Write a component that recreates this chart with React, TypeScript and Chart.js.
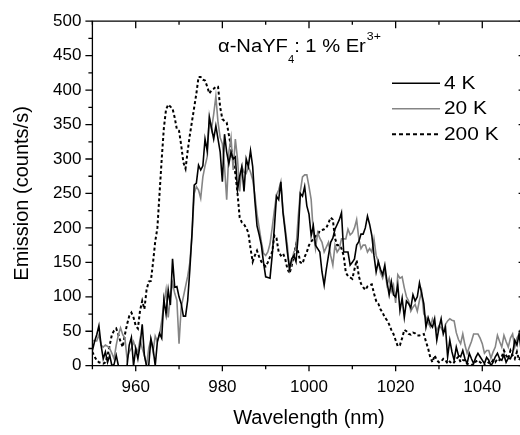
import React, { useEffect, useRef } from "react";
import { Chart, registerables } from "chart.js";

Chart.register(...registerables);

// Wavelength grid (nm): first sample and spacing
const WL_START = 950;
const WL_STEP = 0.5;

// Emission (counts/s), one value per 0.5 nm from 950 to 1050 nm
const EMISSION_4K = [
  22, 35, 45, 58, 30, 10, 20, 5, 15, 0,
  2, 15, 0, 0, 0, 0, 0, 30, 41, 0,
  25, 10, 30, 60, 15, 0, 0, 39, 25, 0,
  35, 47, 40, 96, 75, 110, 88, 155, 114, 115,
  100, 90, 72, 72, 95, 140, 193, 262, 265, 291,
  284, 290, 329, 312, 360, 345, 329, 348, 329, 310,
  267, 336, 310, 293, 310, 300, 303, 255, 275, 289,
  253, 300, 289, 312, 289, 240, 203, 190, 175, 150,
  129, 128, 127, 160, 200, 246, 241, 267, 222, 195,
  165, 141, 155, 160, 151, 189, 250, 246, 260, 232,
  220, 189, 203, 175, 170, 165, 136, 117, 140, 160,
  179, 185, 198, 205, 212, 222, 165, 165, 165, 146,
  150, 155, 175, 180, 191, 191, 200, 217, 205, 189,
  160, 136, 151, 140, 132, 146, 122, 103, 122, 103,
  100, 117, 80, 98, 70, 94, 90, 84, 103, 94,
  100, 120, 105, 90, 56, 70, 60, 56, 68, 37,
  55, 68, 46, 56, 13, 37, 20, 8, 27, 15,
  13, 22, 10, 3, 18, 10, 3, 12, 18, 13,
  8, 3, 12, 8, 0, 5, 13, 18, 10, 8,
  16, 5, 11, 10, 18, 37, 30, 46, 20, 35,
  30,
];

const EMISSION_20K = [
  37, 36, 36, 45, 30, 27, 30, 28, 25, 18,
  10, 30, 45, 55, 45, 40, 10, 20, 25, 35,
  25, 20, 38, 25, 15, 0, 25, 38, 20, 43,
  35, 45, 65, 90, 110, 70, 100, 120, 105, 95,
  32, 85, 100, 115, 130, 150, 190, 250, 260, 255,
  243, 274, 290, 303, 362, 343, 365, 391, 353, 331,
  322, 289, 241, 310, 331, 284, 329, 300, 253, 289,
  281, 279, 289, 281, 270, 248, 220, 200, 180, 163,
  160, 165, 177, 200, 225, 248, 255, 267, 225, 200,
  175, 139, 150, 165, 170, 215, 253, 274, 277, 277,
  260, 241, 193, 170, 193, 185, 179, 165, 172, 179,
  160, 146, 175, 165, 170, 184, 184, 184, 198, 190,
  193, 200, 212, 184, 170, 175, 175, 165, 170, 165,
  184, 160, 151, 135, 127, 139, 117, 127, 108, 117,
  91, 132, 127, 129, 113, 100, 94, 79, 85, 89,
  79, 95, 108, 75, 70, 62, 56, 68, 60, 51,
  58, 55, 48, 60, 65, 68, 66, 65, 48, 38,
  32, 46, 30, 18, 27, 35, 46, 46, 46, 40,
  32, 18, 22, 22, 11, 20, 27, 44, 35, 27,
  44, 35, 27, 40, 46, 27, 40, 46, 30, 40,
  35,
];

const EMISSION_200K = [
  20, 13, 8, 5, 4, 3, 5, 15, 30, 45,
  51, 54, 45, 35, 27, 45, 60, 72, 77, 70,
  58, 54, 80, 94, 82, 110, 122, 123, 150, 180,
  200, 250, 300, 345, 372, 379, 376, 373, 360, 343,
  341, 320, 295, 286, 312, 335, 355, 375, 395, 419,
  419, 415, 414, 405, 395, 400, 402, 405, 405, 375,
  358, 355, 353, 335, 318, 295, 279, 250, 215, 208,
  205, 200, 193, 170, 151, 160, 167, 158, 151, 147,
  144, 150, 158, 165, 189, 185, 165, 160, 163, 155,
  141, 134, 145, 160, 175, 165, 150, 148, 158, 165,
  175, 180, 184, 188, 190, 196, 197, 198, 200, 207,
  215, 212, 185, 175, 175, 170, 160, 135, 130, 128,
  126, 140, 153, 130, 119, 114, 110, 115, 117, 118,
  105, 94, 90, 82, 77, 70, 66, 60, 52, 46,
  37, 28, 30, 40, 52, 50, 46, 45, 48, 47,
  44, 44, 45, 46, 35, 25, 12, 5, 15, 8,
  5, 6, 10, 8, 3, 6, 3, 5, 10, 13,
  5, 8, 8, 3, 2, 0, 4, 6, 8, 5,
  3, 0, 2, 5, 3, 8, 5, 10, 8, 13,
  22, 15, 10, 22, 15, 10, 20, 8, 15, 12,
  10,
];

const SERIES_LABELS = ["4 K", "20 K", "200 K"];

const X_MIN = 950;
const X_MAX = 1050;
const Y_MIN = 0;
const Y_MAX = 500;
const X_LABEL_TICKS = [960, 980, 1000, 1020, 1040];
const X_ALL_TICKS = [950, 960, 970, 980, 990, 1000, 1010, 1020, 1030, 1040, 1050];
const Y_LABEL_TICKS = [0, 50, 100, 150, 200, 250, 300, 350, 400, 450, 500];
const Y_ALL_TICKS = [
  0, 25, 50, 75, 100, 125, 150, 175, 200, 225, 250, 275, 300, 325, 350, 375, 400,
  425, 450, 475, 500,
];

const X_TITLE = "Wavelength (nm)";
const Y_TITLE = "Emission (counts/s)";
const TITLE_MAIN_1 = "α-NaYF";
const TITLE_SUB = "4";
const TITLE_MAIN_2 = ": 1 % Er";
const TITLE_SUP = "3+";

const FONT = "'Liberation Sans', Arial, Helvetica, sans-serif";

function toPoints(values: number[]) {
  return values.map((v, i) => ({ x: WL_START + i * WL_STEP, y: v }));
}

function drawText(
  ctx: CanvasRenderingContext2D,
  text: string,
  x: number,
  y: number,
  size: number,
  sx: number,
  baseline: CanvasTextBaseline
) {
  ctx.save();
  ctx.font = `${size}px ${FONT}`;
  ctx.textBaseline = baseline;
  ctx.textAlign = "left";
  ctx.fillStyle = "#000";
  ctx.translate(x, y);
  ctx.scale(sx, 1);
  ctx.fillText(text, 0, 0);
  const w = ctx.measureText(text).width * sx;
  ctx.restore();
  return w;
}

const framePlugin = {
  id: "frameTicks",
  afterDatasetsDraw(chart: any) {
    const { ctx, chartArea } = chart;
    const { left, right, top, bottom } = chartArea;
    const xs = chart.scales.x;
    const ys = chart.scales.y;
    ctx.save();
    ctx.strokeStyle = "#000";
    ctx.lineWidth = 1.3;
    ctx.beginPath();
    ctx.rect(left, top, right - left, bottom - top);
    ctx.stroke();
    ctx.beginPath();
    X_ALL_TICKS.forEach((v) => {
      const px = xs.getPixelForValue(v);
      const major = X_LABEL_TICKS.includes(v);
      ctx.moveTo(px, bottom);
      ctx.lineTo(px, bottom + (major ? 5.5 : 3.5));
      ctx.moveTo(px, top);
      ctx.lineTo(px, top + (major ? 7 : 3.5));
    });
    Y_ALL_TICKS.forEach((v) => {
      const py = ys.getPixelForValue(v);
      const major = Y_LABEL_TICKS.includes(v);
      ctx.moveTo(left, py);
      ctx.lineTo(left - (major ? 7 : 4), py);
      ctx.moveTo(right, py);
      ctx.lineTo(right - (major ? 7 : 4), py);
    });
    ctx.stroke();
    ctx.restore();
  },
  afterDraw(chart: any) {
    const ctx: CanvasRenderingContext2D = chart.ctx;
    const sx = 1.12;
    // title
    let x = 218;
    const base = 51.7;
    x += drawText(ctx, TITLE_MAIN_1, x, base, 18, sx, "alphabetic");
    x += drawText(ctx, TITLE_SUB, x, base + 11.5, 10, sx, "alphabetic");
    x += drawText(ctx, TITLE_MAIN_2, x, base, 18, sx, "alphabetic");
    drawText(ctx, TITLE_SUP, x + 1, base - 11.5, 11, sx, "alphabetic");
    // legend
    chart.data.datasets.forEach((ds: any, i: number) => {
      const y = 83.3 + i * 25.5;
      ctx.save();
      ctx.strokeStyle = ds.borderColor;
      ctx.lineWidth = ds.borderWidth;
      ctx.setLineDash(ds.borderDash ? [4, 3] : []);
      ctx.beginPath();
      ctx.moveTo(392, y);
      ctx.lineTo(440, y);
      ctx.stroke();
      ctx.restore();
      drawText(ctx, ds.label, 444, y, 19, 1.1, "middle");
    });
  },
};

export default function App() {
  const canvasRef = useRef<HTMLCanvasElement>(null);

  useEffect(() => {
    const canvas = canvasRef.current;
    if (!canvas) return;
    const chart = new Chart(canvas, {
      type: "line",
      data: {
        datasets: [
          {
            label: SERIES_LABELS[0],
            data: toPoints(EMISSION_4K),
            borderColor: "#000000",
            borderWidth: 1.6,
            pointRadius: 0,
            tension: 0,
            clip: 0,
          },
          {
            label: SERIES_LABELS[1],
            data: toPoints(EMISSION_20K),
            borderColor: "#858585",
            borderWidth: 1.6,
            pointRadius: 0,
            tension: 0,
            clip: 0,
          },
          {
            label: SERIES_LABELS[2],
            data: toPoints(EMISSION_200K),
            borderColor: "#000000",
            borderWidth: 2,
            borderDash: [3, 2.5],
            pointRadius: 0,
            tension: 0,
            clip: 0,
          },
        ],
      },
      options: {
        animation: false,
        responsive: false,
        devicePixelRatio: 1,
        events: [],
        layout: { padding: { left: 0, top: 15, right: 14.4, bottom: 0 } },
        plugins: {
          legend: { display: false },
          title: { display: false },
          tooltip: { enabled: false },
        },
        scales: {
          x: {
            type: "linear",
            min: X_MIN,
            max: X_MAX,
            grid: { display: false, drawTicks: false },
            border: { display: false },
            afterBuildTicks: (s: any) => {
              s.ticks = X_LABEL_TICKS.map((v) => ({ value: v }));
            },
            afterFit: (s: any) => {
              s.height = 69.3;
            },
            ticks: {
              padding: 11,
              color: "#000",
              maxRotation: 0,
              autoSkip: false,
              font: { family: FONT, size: 17 },
              callback: (v: any) => String(v),
            },
            title: {
              display: true,
              text: X_TITLE,
              color: "#000",
              font: { family: FONT, size: 20 },
              padding: { top: 0, bottom: 5 },
            },
          },
          y: {
            type: "linear",
            min: Y_MIN,
            max: Y_MAX,
            grid: { display: false, drawTicks: false },
            border: { display: false },
            afterBuildTicks: (s: any) => {
              s.ticks = Y_LABEL_TICKS.map((v) => ({ value: v }));
            },
            afterFit: (s: any) => {
              s.width = 92.4;
            },
            ticks: {
              padding: 11,
              color: "#000",
              autoSkip: false,
              font: { family: FONT, size: 17 },
              callback: (v: any) => String(v),
            },
            title: {
              display: true,
              text: Y_TITLE,
              color: "#000",
              font: { family: FONT, size: 20 },
              padding: { top: 10, bottom: 0 },
            },
          },
        },
      },
      plugins: [framePlugin],
    } as any);
    return () => chart.destroy();
  }, []);

  return (
    <div
      style={{
        position: "fixed",
        left: 0,
        top: 0,
        width: 520,
        height: 435,
        overflow: "hidden",
        background: "#fff",
      }}
    >
      <canvas ref={canvasRef} width={540} height={435} style={{ display: "block" }} />
    </div>
  );
}
